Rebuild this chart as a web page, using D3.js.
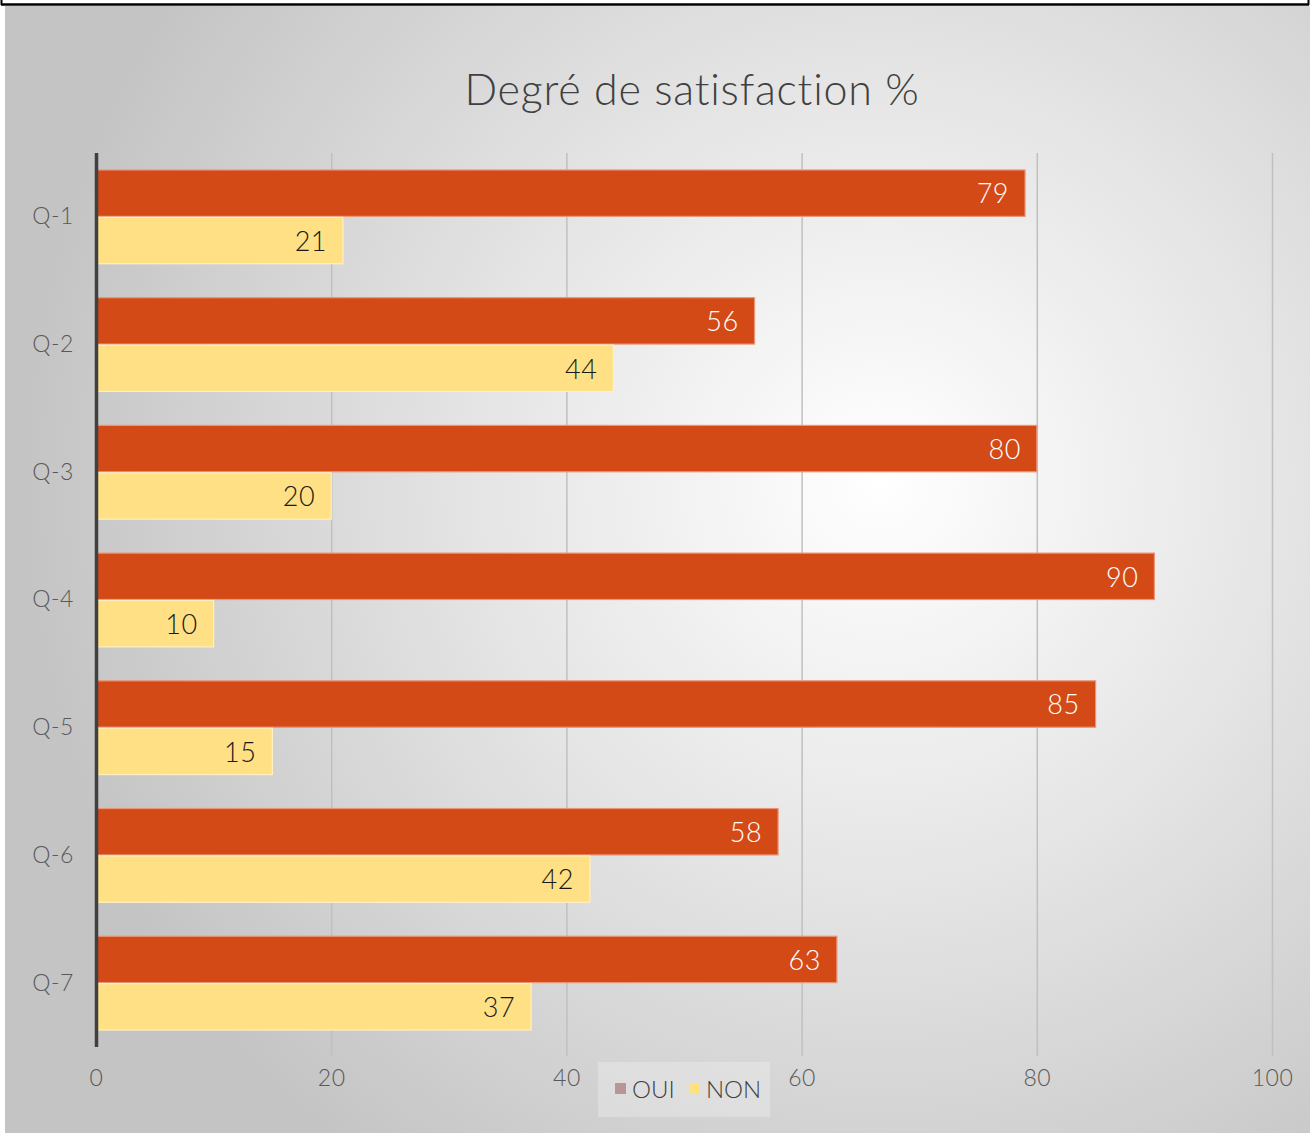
<!DOCTYPE html>
<html><head><meta charset="utf-8">
<script src="https://cdn.jsdelivr.net/npm/d3@7"></script>
<style>body{margin:0;background:#fff;} svg{display:block;}</style>
</head><body>
<svg id="c" width="1310" height="1133"></svg>
<script>
const categories = ["Q-1","Q-2","Q-3","Q-4","Q-5","Q-6","Q-7"];
const oui = [79,56,80,90,85,58,63];
const non = [21,44,20,10,15,42,37];
const seriesNames = ["OUI","NON"];
const xTicks = [0,20,40,60,80,100];
const title = "Degré de satisfaction %";

const font = "'Lato','Open Sans',sans-serif";
const svg = d3.select("#c");
const defs = svg.append("defs");
const rg = defs.append("radialGradient").attr("id","bg")
  .attr("gradientUnits","userSpaceOnUse").attr("cx",880).attr("cy",480).attr("r",860);
rg.append("stop").attr("offset",0).attr("stop-color","#ffffff");
rg.append("stop").attr("offset",0.45).attr("stop-color","#e6e6e6");
rg.append("stop").attr("offset",1).attr("stop-color","#c4c4c4");

// frame
svg.append("rect").attr("x",5).attr("y",6).attr("width",1305).attr("height",1127).attr("fill","url(#bg)");
svg.append("line").attr("x1",1).attr("x2",1309).attr("y1",4.5).attr("y2",4.5).attr("stroke","#000").attr("stroke-width",2.5);
svg.append("line").attr("x1",1.5).attr("x2",1.5).attr("y1",0).attr("y2",5).attr("stroke","#000").attr("stroke-width",2);
svg.append("line").attr("x1",1308.5).attr("x2",1308.5).attr("y1",0).attr("y2",5).attr("stroke","#000").attr("stroke-width",2);

const x = d3.scaleLinear().domain([0,100]).range([96,1272]);
const y = d3.scaleBand().domain(categories).range([153,1047]).paddingInner(0.258).paddingOuter(0.129);
const y1 = d3.scaleBand().domain(seriesNames).range([0,y.bandwidth()]);

// gridlines
svg.append("g").selectAll("line").data(xTicks.slice(1)).join("line")
  .attr("x1",d=>x(d)+0.5).attr("x2",d=>x(d)+0.5).attr("y1",153).attr("y2",1056)
  .attr("stroke","#c0c0c0").attr("stroke-width",1.5);

// x axis labels
const xAxis = d3.axisBottom(x).tickValues(xTicks).tickSize(0).tickPadding(0);
const gx = svg.append("g").attr("transform","translate(0,1078)").call(xAxis);
gx.select(".domain").remove();
gx.selectAll("text").attr("font-family",font).attr("font-size",23).attr("font-weight",300)
  .attr("fill","#595959").attr("dy","0.35em").attr("y",0).attr("letter-spacing",0.5);

// title
svg.append("text").attr("x",692).attr("y",105).attr("text-anchor","middle")
  .attr("font-family",font).attr("font-size",43).attr("font-weight",300).attr("letter-spacing",0.8)
  .attr("fill","#404040").text(title);

// bars
const colors = {OUI:"#d34a17", NON:"#ffe084"};
const strokes = {OUI:"#ec9478", NON:"#fff0c0"};
const groups = svg.append("g").selectAll("g").data(categories).join("g")
  .attr("transform",d=>`translate(0,${y(d)})`);
const rows = (d,i)=>[{s:"OUI",v:oui[i]},{s:"NON",v:non[i]}];
groups.each(function(c,i){
  const g = d3.select(this);
  const data = rows(c,i);
  g.selectAll("rect").data(data).join("rect")
    .attr("x",x(0)).attr("y",d=>y1(d.s)+0.5).attr("width",d=>x(d.v)-x(0))
    .attr("height",y1.bandwidth()-1).attr("fill",d=>colors[d.s])
    .attr("stroke",d=>strokes[d.s]).attr("stroke-width",1.2);
  g.selectAll("text").data(data).join("text")
    .attr("x",d=>x(d.v)-16).attr("y",d=>y1(d.s)+y1.bandwidth()/2)
    .attr("dy","0.38em").attr("text-anchor","end")
    .attr("font-family",font).attr("font-size",27).attr("font-weight",300).attr("letter-spacing",0.5)
    .attr("fill",d=>d.s==="OUI"?"#ffffff":"#1a1a1a").text(d=>d.v);
});

// y axis
const yAxis = d3.axisLeft(y).tickSize(0).tickPadding(22);
const gy = svg.append("g").attr("transform","translate(96,0)").call(yAxis);
gy.select(".domain").remove();
gy.selectAll("text").attr("font-family",font).attr("font-size",23).attr("font-weight",300)
  .attr("letter-spacing",0.6).attr("fill","#595959");
svg.append("line").attr("x1",96.5).attr("x2",96.5).attr("y1",153).attr("y2",1047).attr("stroke","#404040").attr("stroke-width",3.5);

// legend
const lg = svg.append("g");
lg.append("rect").attr("x",598).attr("y",1062).attr("width",172).attr("height",55).attr("fill","#ffffff").attr("opacity",0.25);
const legItems = [{s:"OUI",c:"#b89597",x:615},{s:"NON",c:"#ffe07f",x:689}];
legItems.forEach(it=>{
  lg.append("rect").attr("x",it.x).attr("y",1083).attr("width",11).attr("height",11).attr("fill",it.c);
  lg.append("text").attr("x",it.x+17).attr("y",1089).attr("dy","0.36em")
    .attr("font-family",font).attr("font-size",24).attr("font-weight",300).attr("fill","#404040").text(it.s);
});
</script>
</body></html>
